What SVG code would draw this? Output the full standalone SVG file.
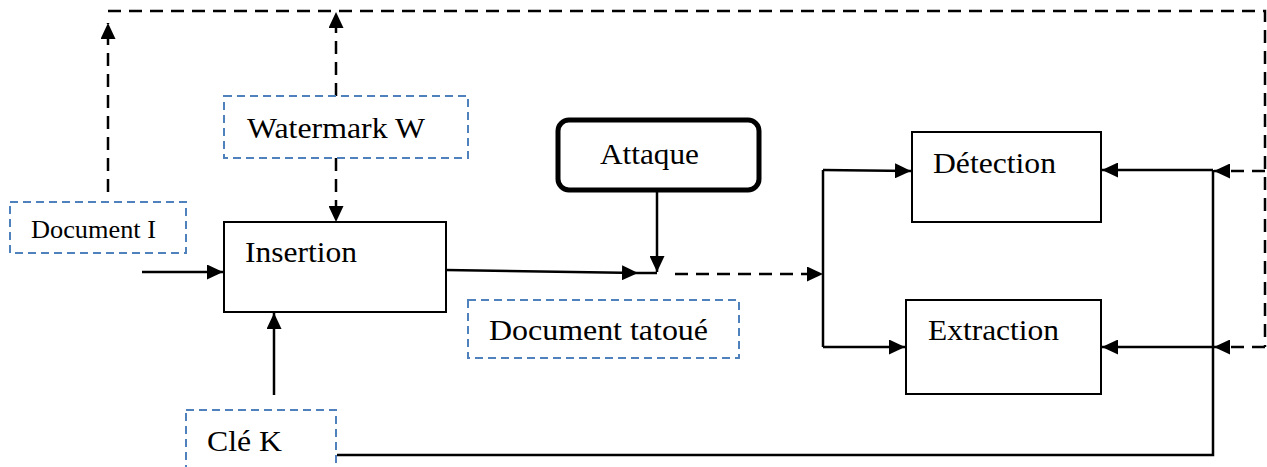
<svg xmlns="http://www.w3.org/2000/svg" width="1267" height="467" viewBox="0 0 1267 467">
  <style>
    .box { fill: #fff; stroke: #000; stroke-width: 2; }
    .rbox { fill: #fff; stroke: #000; stroke-width: 5; }
    .lbl { fill: none; stroke: #4f81bd; stroke-width: 2; stroke-dasharray: 8 5; }
    .txt { font-family: "Liberation Serif", "Times New Roman", serif; font-size: 30px; fill: #000; }
    .small { font-size: 26px; }
    .ln { fill: none; stroke: #000; stroke-width: 2.5; }
    .dl { fill: none; stroke: #000; stroke-width: 2.5; stroke-dasharray: 13 8; }
    .arr { marker-end: url(#ah); }
  </style>
  <defs>
    <marker id="ah" markerUnits="userSpaceOnUse" markerWidth="17" markerHeight="15" refX="16" refY="7.5" orient="auto">
      <path d="M0,0 L16,7.5 L0,15 Z" fill="#000"/>
    </marker>
  </defs>

  <!-- connectors -->
  <g id="connectors">
    <!-- feedback bus along the top and right -->
    <path class="dl" d="M108,11 H1265 V347"/>
    <path class="dl arr" d="M108,192 V23"/>
    <path class="dl arr" d="M336,96 V12"/>
    <path class="dl arr" d="M336,158 V222"/>
    <!-- into insertion -->
    <path class="ln arr" d="M142,272 H223"/>
    <path class="ln arr" d="M274,395 V313"/>
    <!-- insertion to attack point -->
    <path class="ln arr" d="M446,270 L638,273"/>
    <path class="ln" d="M638,273 H657"/>
    <path class="ln arr" d="M657,192 V272"/>
    <path class="dl arr" d="M675,274 H823"/>
    <!-- splitter -->
    <path class="ln" d="M823,170 V347"/>
    <path class="ln arr" d="M823,170 L911,171"/>
    <path class="ln arr" d="M823,347 H905"/>
    <!-- key line to detectors -->
    <path class="ln" d="M337,455 H1213 V170"/>
    <path class="ln arr" d="M1213,170 H1102"/>
    <path class="ln arr" d="M1213,347 H1102"/>
    <path class="dl arr" d="M1265,171 H1214"/>
    <path class="dl arr" d="M1265,347 H1214"/>
  </g>

  <g id="document-i">
    <rect class="lbl" x="10" y="202" width="176" height="51"/>
    <text class="txt small" x="31" y="238" textLength="125" lengthAdjust="spacingAndGlyphs">Document I</text>
  </g>

  <g id="watermark-w">
    <rect class="lbl" x="224" y="96" width="244" height="62"/>
    <text class="txt" x="247" y="138" textLength="178" lengthAdjust="spacingAndGlyphs">Watermark W</text>
  </g>

  <g id="insertion">
    <rect class="box" x="224" y="222" width="222" height="90"/>
    <text class="txt" x="245" y="262" textLength="112" lengthAdjust="spacingAndGlyphs">Insertion</text>
  </g>

  <g id="cle-k">
    <rect class="lbl" x="186" y="410" width="150" height="70"/>
    <text class="txt" x="207" y="451" textLength="75" lengthAdjust="spacingAndGlyphs">Clé K</text>
  </g>

  <g id="attaque">
    <rect class="rbox" x="558" y="120" width="201" height="70" rx="11" ry="11"/>
    <text class="txt" x="600" y="164" textLength="99" lengthAdjust="spacingAndGlyphs">Attaque</text>
  </g>

  <g id="document-tatoue">
    <rect class="lbl" x="468" y="300" width="271" height="58"/>
    <text class="txt" x="489" y="340" textLength="219" lengthAdjust="spacingAndGlyphs">Document tatoué</text>
  </g>

  <g id="detection">
    <rect class="box" x="912" y="132" width="189" height="90"/>
    <text class="txt" x="933" y="173" textLength="123" lengthAdjust="spacingAndGlyphs">Détection</text>
  </g>

  <g id="extraction">
    <rect class="box" x="906" y="300" width="195" height="94"/>
    <text class="txt" x="928" y="340" textLength="131" lengthAdjust="spacingAndGlyphs">Extraction</text>
  </g>
</svg>
